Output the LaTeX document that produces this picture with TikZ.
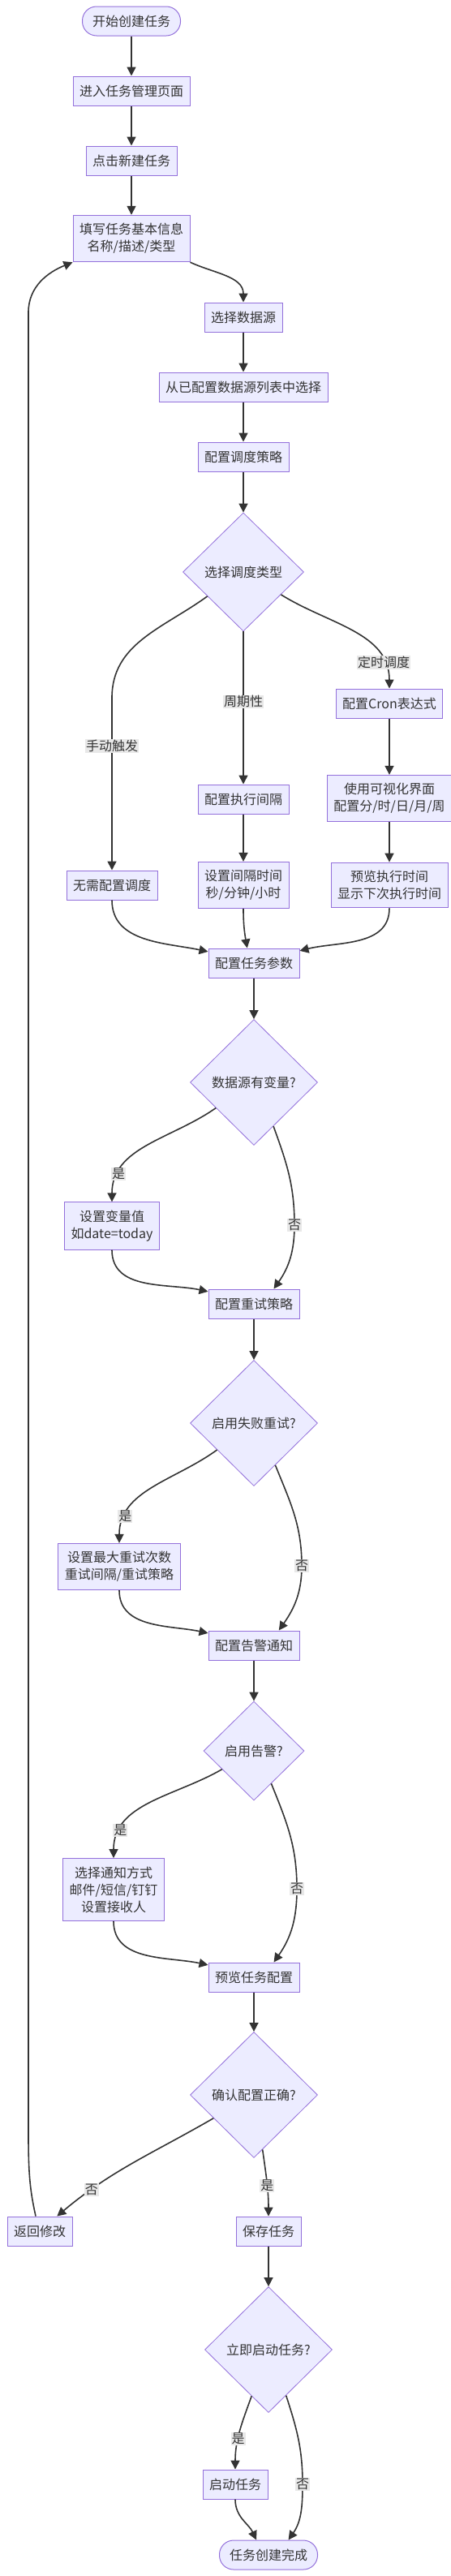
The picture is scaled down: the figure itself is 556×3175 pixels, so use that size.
\documentclass[tikz,border=0pt]{standalone}
\usepackage{fontspec}
\setmainfont{Noto Sans CJK SC}
\usepackage{tikz}
\usetikzlibrary{shapes,arrows.meta}
\definecolor{nodefill}{HTML}{ECECFF}
\definecolor{nodeline}{HTML}{9370DB}
\definecolor{inkgray}{HTML}{333333}
\definecolor{lblfill}{HTML}{E8E8E8}
\tikzstyle{base}      = [font=\fontsize{16}{21}\selectfont, text=inkgray, align=center]
\tikzstyle{process}   = [base, rectangle, draw=nodeline, fill=nodefill, line width=1pt, inner xsep=8pt, inner ysep=10pt, minimum height=36pt]
\tikzstyle{startstop} = [process, rounded corners=17.5pt, inner xsep=12.5pt]
\tikzstyle{decision}  = [base, diamond, draw=nodeline, fill=nodefill, line width=0.8pt, inner sep=0pt, minimum width=157pt, minimum height=155pt]
\tikzstyle{arrow}     = [draw=inkgray, line width=1.6pt, -{Triangle[length=11pt,width=11pt]}]
\tikzstyle{lbl}       = [base, fill=lblfill, inner sep=1pt]

\begin{document}
\begin{tikzpicture}[x=1pt,y=-1pt]
        \useasboundingbox (0,0) rectangle (556,3175);

        \node[startstop] (start) at (162,26) {开始创建任务};
        \node[process] (enter) at (162,112) {进入任务管理页面};
        \node[process] (newtask) at (162,198) {点击新建任务};
        \node[process] (basic) at (162,294) {填写任务基本信息\\名称/描述/类型};
        \node[process] (source) at (300,391) {选择数据源};
        \node[process] (srclist) at (300,477) {从已配置数据源列表中选择};
        \node[process] (sched) at (300,563) {配置调度策略};
        \node[decision, minimum width=149pt, minimum height=146pt] (schedtype) at (300,705) {选择调度类型};
        \node[process] (cron) at (480,867) {配置Cron表达式};
        \node[process] (interval) at (300,985) {配置执行间隔};
        \node[process] (visual) at (480,984) {使用可视化界面\\配置分/时/日/月/周};
        \node[process] (manual) at (138,1091) {无需配置调度};
        \node[process] (intime) at (300,1091) {设置间隔时间\\秒/分钟/小时};
        \node[process] (preview) at (480,1091) {预览执行时间\\显示下次执行时间};
        \node[process] (params) at (313,1187) {配置任务参数};
        \node[decision] (hasvar) at (313,1334) {数据源有变量?};
        \node[process] (setvar) at (138,1511) {设置变量值\\如date=today};
        \node[process] (retry) at (313,1607) {配置重试策略};
        \node[decision] (useretry) at (313,1754) {启用失败重试?};
        \node[process] (retryset) at (147,1931) {设置最大重试次数\\重试间隔/重试策略};
        \node[process] (alert) at (313,2028) {配置告警通知};
        \node[decision, minimum width=124pt, minimum height=122pt] (usealert) at (313,2158) {启用告警?};
        \node[process] (alertset) at (140,2329) {选择通知方式\\邮件/短信/钉钉\\设置接收人};
        \node[process] (review) at (313,2437) {预览任务配置};
        \node[decision] (confirm) at (313,2582) {确认配置正确?};
        \node[process] (back) at (49,2750) {返回修改};
        \node[process] (save) at (331,2750) {保存任务};
        \node[decision] (runnow) at (331,2896) {立即启动任务?};
        \node[process] (launch) at (290,3062) {启动任务};
        \node[startstop] (done) at (331,3149) {任务创建完成};

        \draw[arrow] (start) -- (enter);
        \draw[arrow] (enter) -- (newtask);
        \draw[arrow] (newtask) -- (basic);
        \draw[arrow] (basic.south east) to[out=-25,in=90] (source.north);
        \draw[arrow] (source) -- (srclist);
        \draw[arrow] (srclist) -- (sched);
        \draw[arrow] (sched) -- (schedtype);

        \draw[arrow] (schedtype.214) to[out=216,in=90] (138,860) -- (manual.north) node[lbl,pos=0.28] {手动触发};
        \draw[arrow] (schedtype) -- (interval) node[lbl,pos=0.46] {周期性};
        \draw[arrow] (schedtype.329) to[out=-32,in=90] node[lbl,pos=0.82] {定时调度} (cron.north);
        \draw[arrow] (cron) -- (visual);
        \draw[arrow] (visual) -- (preview);
        \draw[arrow] (interval) -- (intime);
        \draw[arrow] (manual.south) to[out=-90,in=168] (params.166);
        \draw[arrow] (intime.south) to[out=-90,in=100] (params.114);
        \draw[arrow] (preview.south) to[out=-90,in=14] (params.15);

        \draw[arrow] (params) -- (hasvar);
        \draw[arrow] (hasvar.214) to[out=215,in=90] node[lbl,pos=0.8] {是} (setvar.north);
        \draw[arrow] (hasvar.294) to[out=-70,in=90] (363,1510) node[lbl] {否} to[out=-90,in=55] (retry.37);
        \draw[arrow] (setvar.south) to[out=-90,in=168] (retry.165);

        \draw[arrow] (retry) -- (useretry);
        \draw[arrow] (useretry.216) to[out=216,in=90] node[lbl,pos=0.8] {是} (retryset.north);
        \draw[arrow] (useretry.297) to[out=-68,in=90] (372,1930) node[lbl] {否} to[out=-90,in=55] (alert.31);
        \draw[arrow] (retryset.south) to[out=-90,in=168] (alert.165);

        \draw[arrow] (alert) -- (usealert);
        \draw[arrow] (usealert.210) to[out=210,in=90] node[lbl,pos=0.8] {是} (alertset.north);
        \draw[arrow] (usealert.298) to[out=-68,in=90] (366,2328) node[lbl] {否} to[out=-90,in=55] (review.37);
        \draw[arrow] (alertset.south) to[out=-90,in=168] (review.165);

        \draw[arrow] (review) -- (confirm);
        \draw[arrow] (confirm.210) to[out=210,in=40] node[lbl,pos=0.78] {否} (back.41);
        \draw[arrow] (confirm.279) to[out=-82,in=90] node[lbl,pos=0.55] {是} (save.north);
        \draw[arrow] (back.105) .. controls (37,2700) and (35,2680) .. (35,2630) -- (35,385) to[out=90,in=202] (basic.south west);

        \draw[arrow] (save) -- (runnow);
        \draw[arrow] (runnow.250) to[out=-110,in=90] node[lbl,pos=0.6] {是} (launch.north);
        \draw[arrow] (runnow.291) to[out=-72,in=90] (373,3062) node[lbl] {否} to[out=-90,in=55] (done.37);
        \draw[arrow] (launch.south) to[out=-90,in=115] (done.129);
    \end{tikzpicture}
\end{document}
